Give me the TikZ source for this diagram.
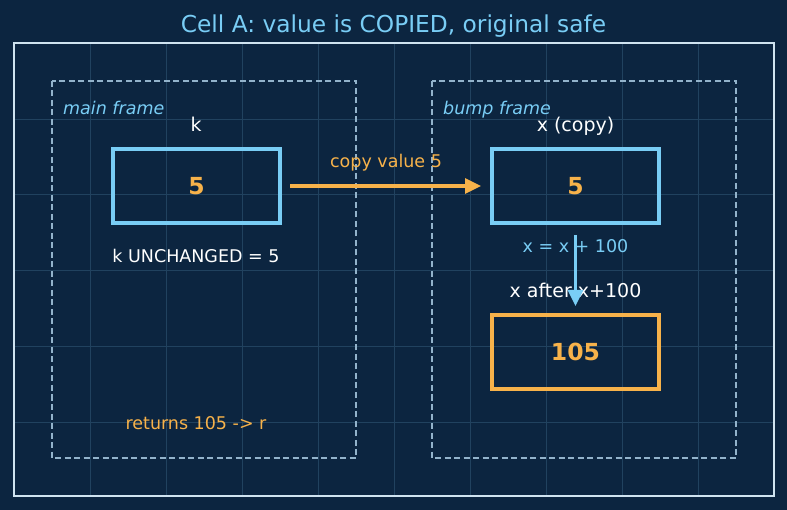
\documentclass[tikz,border=0pt]{standalone}
\usepackage{fontspec}
\setmainfont{DejaVu Sans}
\usetikzlibrary{arrows.meta}
\definecolor{bg}{HTML}{0C2540}
\definecolor{gridc}{HTML}{21425F}
\definecolor{outer}{HTML}{CFE3F0}
\definecolor{dashc}{HTML}{93B3CB}
\definecolor{lblue}{HTML}{79CDF5}
\definecolor{orng}{HTML}{F7B24A}
\tikzset{
  valbox/.style={draw=#1, line width=3.5pt, minimum width=167pt, minimum height=74pt, inner sep=0pt, font=\fontsize{23.5}{26}\selectfont\bfseries, text=orng},
  framebox/.style={draw=dashc, line width=1.6pt, dash pattern=on 6pt off 3.5pt},
  smalltxt/.style={font=\fontsize{17.5}{20}\selectfont, inner sep=0pt, anchor=base},
  lbltxt/.style={font=\fontsize{19}{22}\selectfont, inner sep=0pt, text=white, anchor=base},
  conn/.style={line width=3.2pt, -{Stealth[length=16pt,width=15pt,inset=0pt]}}
}
\begin{document}
\begin{tikzpicture}[x=1pt,y=-1pt]
\fill[bg] (0,0) rectangle (787,510);
\useasboundingbox (0,0) rectangle (787,510);
% grid
\foreach \gx in {90,166,242,318,394,470,546,622,698}
  \draw[gridc, line width=0.7pt] (\gx,43) -- (\gx,496);
\foreach \gy in {119,194,270,346,422}
  \draw[gridc, line width=0.7pt] (14,\gy) -- (774,\gy);
\draw[outer, line width=2pt] (14,43) rectangle (774,496);
\node[font=\fontsize{23.3}{26}\selectfont, text=lblue, inner sep=0pt, anchor=base] (title) at (393.5,33) {Cell A: value is COPIED, original safe};
% frames
\draw[framebox] (52,81) rectangle (356,458);
\draw[framebox] (432,81) rectangle (736,458);
\node[smalltxt, anchor=base west, text=lblue, font=\fontsize{17.5}{20}\selectfont\itshape] (mainlbl) at (63,115) {main frame};
\node[smalltxt, anchor=base west, text=lblue, font=\fontsize{17.5}{20}\selectfont\itshape] (bumplbl) at (443,115) {bump frame};
% main frame
\node[lbltxt] (klbl) at (196,132) {k};
\node[valbox=lblue] (kbox) at (196.5,186) {5};
\node[smalltxt, text=white] (kunch) at (196,263) {k UNCHANGED = 5};
\node[smalltxt, text=orng] (ret) at (196,429) {returns 105 -> r};
% bump frame
\node[lbltxt] (xlbl) at (575.5,132) {x (copy)};
\node[valbox=lblue] (xbox) at (575.5,186) {5};
\node[smalltxt, text=lblue] (xeq) at (575.5,253) {x = x + 100};
\node[lbltxt] (xafter) at (575.5,298) {x after x+100};
\node[valbox=orng] (rbox) at (575.5,352) {105};
% copy arrow
\node[smalltxt, text=orng] (copylbl) at (386,168) {copy value 5};
\coordinate (cs) at (290,186);
\coordinate (ce) at (481,186);
\draw[conn, orng] (cs) -- (ce);
\coordinate (bs) at (575.5,235);
\coordinate (be) at (575.5,306);
\draw[conn, lblue] (bs) -- (be);
\end{tikzpicture}
\end{document}
